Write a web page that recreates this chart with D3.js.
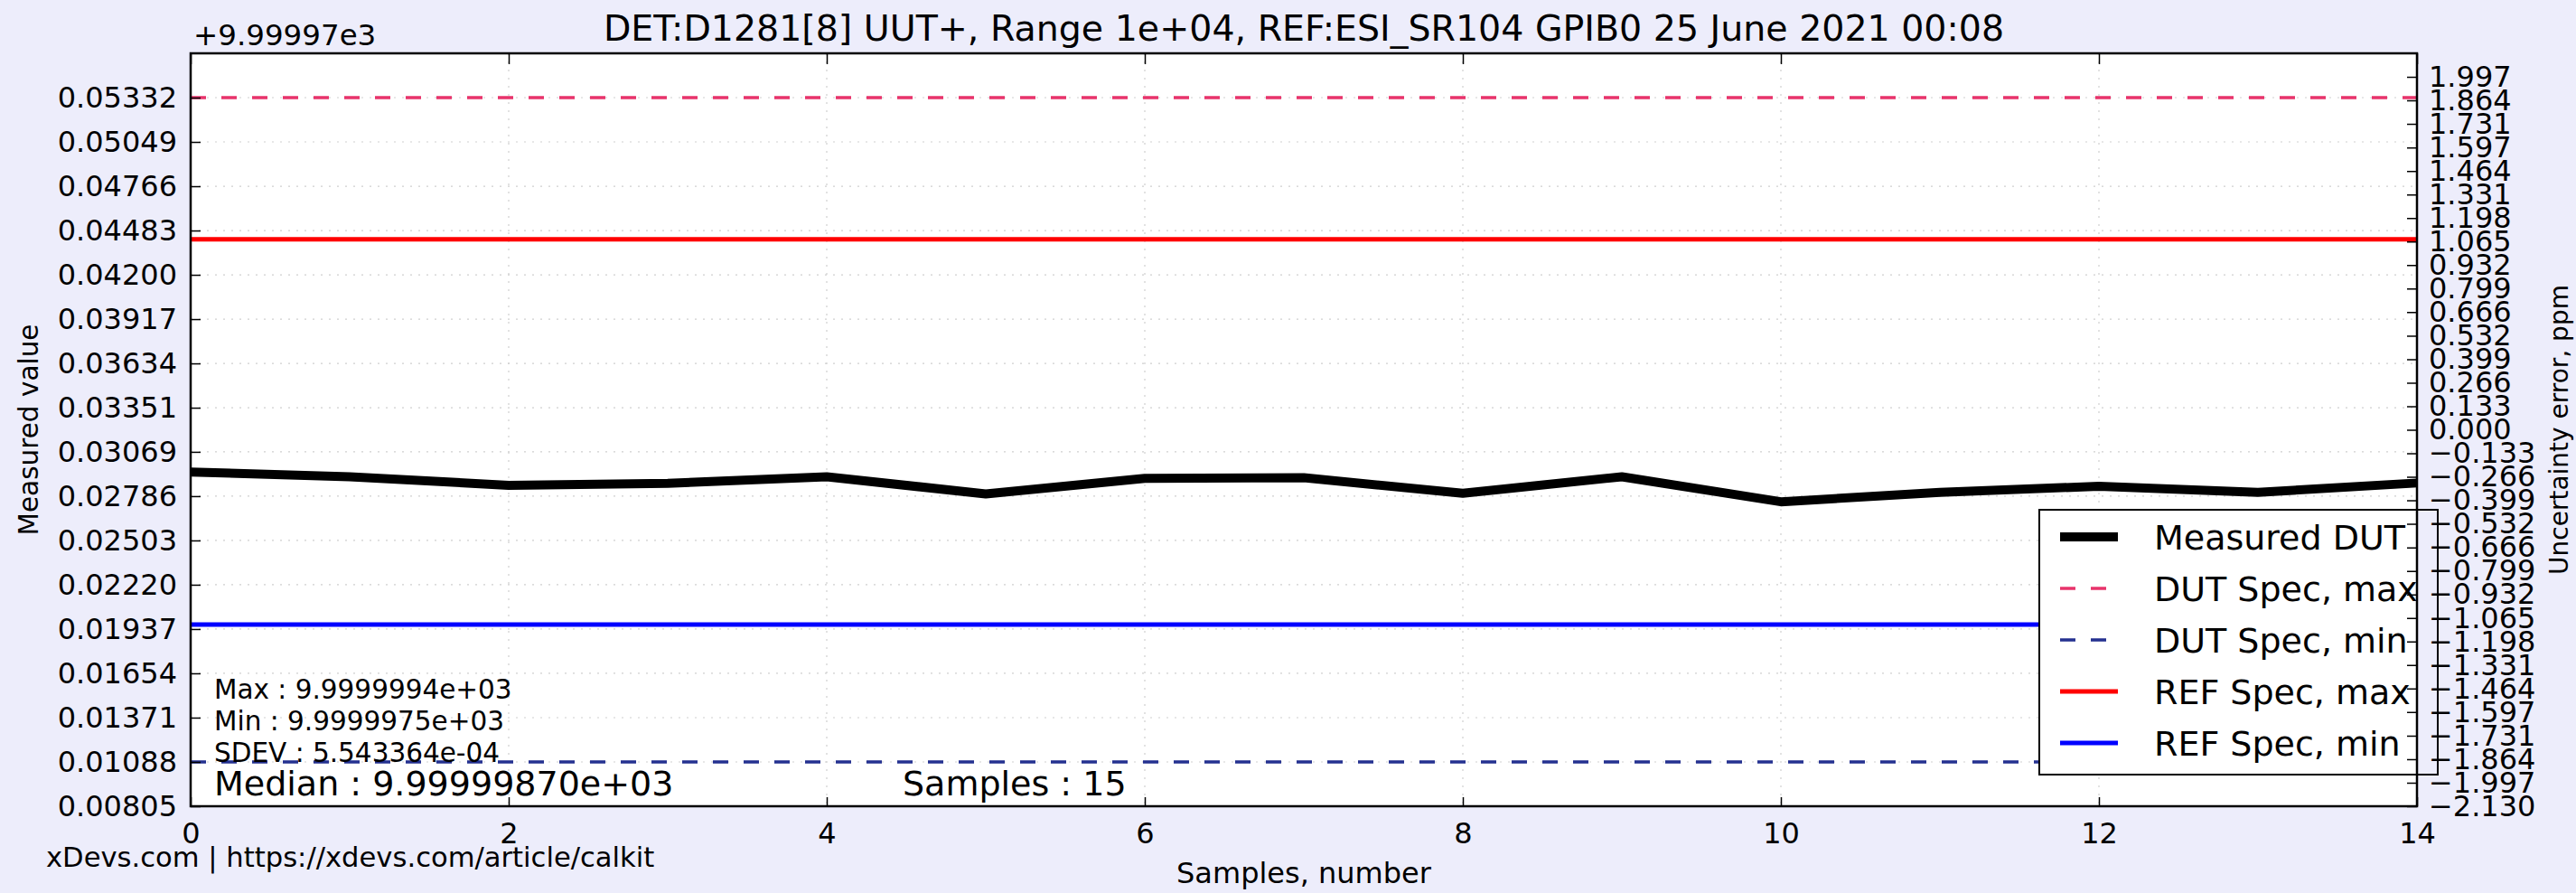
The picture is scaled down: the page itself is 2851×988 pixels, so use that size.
<!DOCTYPE html>
<html>
<head>
<meta charset="utf-8">
<script src="https://cdn.jsdelivr.net/npm/d3@7"></script>
<style>
  html, body { margin: 0; padding: 0; background: #ededfb; }
  svg { display: block; font-family: "DejaVu Sans", sans-serif; }
</style>
</head>
<body>
<div id="chart"></div>
<script>
// values are offsets from 9.99997e3
var samples = [0, 1, 2, 3, 4, 5, 6, 7, 8, 9, 10, 11, 12, 13, 14];
var measured = [0.02940, 0.02910, 0.02855, 0.02868, 0.02910, 0.02800, 0.02900, 0.02904,
                0.02804, 0.02910, 0.02750, 0.02810, 0.02849, 0.02810, 0.02870];
var dutSpecMax = 0.05332;
var dutSpecMin = 0.01088;
var refSpecMax = 0.04427;
var refSpecMin = 0.01966;

var leftTicks = [0.00805, 0.01088, 0.01371, 0.01654, 0.01937, 0.02220, 0.02503, 0.02786,
                 0.03069, 0.03351, 0.03634, 0.03917, 0.04200, 0.04483, 0.04766, 0.05049, 0.05332];
var rightTicks = [1.997, 1.864, 1.731, 1.597, 1.464, 1.331, 1.198, 1.065, 0.932, 0.799, 0.666,
                  0.532, 0.399, 0.266, 0.133, 0.000, -0.133, -0.266, -0.399, -0.532, -0.666,
                  -0.799, -0.932, -1.065, -1.198, -1.331, -1.464, -1.597, -1.731, -1.864, -1.997, -2.130];
var xTicks = [0, 2, 4, 6, 8, 10, 12, 14];

var legendItems = [
  {label: "Measured DUT", color: "#000", width: 10, dash: null},
  {label: "DUT Spec, max", color: "#e8336b", width: 3.5, dash: "17,17"},
  {label: "DUT Spec, min", color: "#243190", width: 3.5, dash: "17,17"},
  {label: "REF Spec, max", color: "#ff0000", width: 5, dash: null},
  {label: "REF Spec, min", color: "#0000ff", width: 5, dash: null}
];

var W = 2851, H = 988;
var margin = {top: 59, right: 176, bottom: 96, left: 211};
var x0 = margin.left, x1 = W - margin.right, y0 = margin.top, y1 = H - margin.bottom;

var svg = d3.select("#chart").append("svg")
    .attr("width", W)
    .attr("height", H);

svg.append("rect").attr("width", W).attr("height", H).attr("fill", "#ededfb");

var x = d3.scaleLinear().domain([0, 14]).range([x0, x1]);
var y = d3.scaleLinear().domain([0.00805, 0.05615]).range([y1, y0]);
var yR = d3.scaleLinear().domain([-2.13, 2.13]).range([y1, y0]);

// plot background
svg.append("rect")
    .attr("x", x0).attr("y", y0)
    .attr("width", x1 - x0).attr("height", y1 - y0)
    .attr("fill", "#fff");

// grid
var grid = svg.append("g").attr("stroke", "#cfcfcf").attr("stroke-width", 1.2).attr("stroke-dasharray", "2,7");
grid.selectAll(".gy").data(leftTicks).enter().append("line")
    .attr("x1", x0).attr("x2", x1)
    .attr("y1", d => y(d)).attr("y2", d => y(d));
grid.selectAll(".gx").data(xTicks).enter().append("line")
    .attr("y1", y0).attr("y2", y1)
    .attr("x1", d => x(d)).attr("x2", d => x(d));

// spec lines
function hline(v, item) {
  svg.append("line")
      .attr("x1", x0).attr("x2", x1)
      .attr("y1", y(v)).attr("y2", y(v))
      .attr("stroke", item.color)
      .attr("stroke-width", item.width)
      .attr("stroke-dasharray", item.dash);
}
hline(dutSpecMax, legendItems[1]);
hline(dutSpecMin, legendItems[2]);
hline(refSpecMax, legendItems[3]);
hline(refSpecMin, legendItems[4]);

// measured line
var line = d3.line()
    .x((d, i) => x(samples[i]))
    .y(d => y(d));
svg.append("path")
    .datum(measured)
    .attr("d", line)
    .attr("fill", "none")
    .attr("stroke", "#000")
    .attr("stroke-width", 10)
    .attr("stroke-linejoin", "round");

// stats text
var stats = [
  {t: "Max : 9.9999994e+03", y: 773},
  {t: "Min : 9.9999975e+03", y: 808},
  {t: "SDEV : 5.543364e-04", y: 843}
];
svg.selectAll(".stat").data(stats).enter().append("text")
    .attr("x", 237).attr("y", d => d.y)
    .attr("font-size", 29.5)
    .text(d => d.t);
svg.append("text").attr("x", 237).attr("y", 880).attr("font-size", 38)
    .text("Median : 9.99999870e+03");
svg.append("text").attr("x", 999).attr("y", 880).attr("font-size", 38)
    .text("Samples : 15");

// legend
var lg = {x: 2257, y: 564, w: 441, h: 293, row: 57};
svg.append("clipPath").attr("id", "lgclip").append("rect")
    .attr("x", lg.x).attr("y", lg.y).attr("width", x1 - lg.x).attr("height", lg.h);
var legend = svg.append("g").attr("clip-path", "url(#lgclip)");
legend.append("rect")
    .attr("x", lg.x).attr("y", lg.y).attr("width", lg.w).attr("height", lg.h)
    .attr("fill", "#fff");
legendItems.forEach(function(d, i) {
  var ly = lg.y + 30 + i * lg.row;
  legend.append("line")
      .attr("x1", 2280).attr("x2", 2344)
      .attr("y1", ly).attr("y2", ly)
      .attr("stroke", d.color)
      .attr("stroke-width", d.width)
      .attr("stroke-dasharray", d.dash);
  legend.append("text")
      .attr("x", 2384).attr("y", ly + 14)
      .attr("font-size", 38)
      .text(d.label);
});
svg.append("rect")
    .attr("x", lg.x).attr("y", lg.y).attr("width", lg.w).attr("height", lg.h)
    .attr("fill", "none").attr("stroke", "#000").attr("stroke-width", 2);

// axes
var fmtL = d3.format(".5f"), fmtR = d3.format(".3f");
var axL = svg.append("g").attr("transform", "translate(" + x0 + ",0)")
    .call(d3.axisLeft(y).tickValues(leftTicks).tickFormat(fmtL).tickSizeInner(-11).tickSizeOuter(0).tickPadding(15));
var axR = svg.append("g").attr("transform", "translate(" + x1 + ",0)")
    .call(d3.axisRight(yR).tickValues(rightTicks).tickFormat(fmtR).tickSizeInner(-11).tickSizeOuter(0).tickPadding(13));
var axB = svg.append("g").attr("transform", "translate(0," + y1 + ")")
    .call(d3.axisBottom(x).tickValues(xTicks).tickFormat(d3.format("d")).tickSizeInner(-10).tickSizeOuter(0).tickPadding(18));
var axT = svg.append("g").attr("transform", "translate(0," + y0 + ")")
    .call(d3.axisTop(x).tickValues(xTicks).tickFormat("").tickSizeInner(-12).tickSizeOuter(0));

[axL, axR, axB, axT].forEach(function(a) {
  a.select(".domain").remove();
  a.selectAll(".tick line").attr("stroke", "#000").attr("stroke-width", 1.5);
  a.selectAll(".tick text").attr("font-size", 32).attr("font-family", "DejaVu Sans").attr("fill", "#000");
});

// frame
svg.append("rect")
    .attr("x", x0).attr("y", y0)
    .attr("width", x1 - x0).attr("height", y1 - y0)
    .attr("fill", "none").attr("stroke", "#000").attr("stroke-width", 2.5);

// texts
svg.append("text").attr("x", 214).attr("y", 50).attr("font-size", 32.5).text("+9.99997e3");
svg.append("text").attr("x", (x0 + x1) / 2).attr("y", 45).attr("font-size", 39.5)
    .attr("text-anchor", "middle")
    .text("DET:D1281[8] UUT+, Range 1e+04, REF:ESI_SR104 GPIB0 25 June 2021 00:08");
svg.append("text").attr("x", (x0 + x1) / 2).attr("y", 977).attr("font-size", 32)
    .attr("text-anchor", "middle").text("Samples, number");
svg.append("text").attr("x", 51).attr("y", 959).attr("font-size", 30.6)
    .text("xDevs.com | https://xdevs.com/article/calkit");
svg.append("text").attr("transform", "translate(42," + (y0 + y1) / 2 + ") rotate(-90)")
    .attr("font-size", 29.5).attr("text-anchor", "middle").text("Measured value");
svg.append("text").attr("transform", "translate(2842," + (y0 + y1) / 2 + ") rotate(-90)")
    .attr("font-size", 28).attr("text-anchor", "middle").text("Uncertainty error, ppm");
</script>
</body>
</html>
